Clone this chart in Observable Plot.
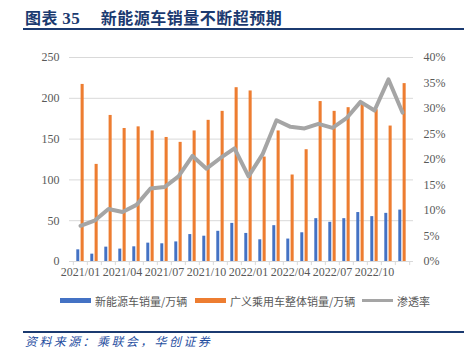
<!DOCTYPE html>
<html>
<head>
<meta charset="utf-8">
<script src="https://cdn.jsdelivr.net/npm/d3@7"></script>
<script src="https://cdn.jsdelivr.net/npm/@observablehq/plot@0.6"></script>
<style>
body{margin:0;background:#fff;}
#wrap{position:relative;width:471px;height:352px;overflow:hidden;background:#fff;}
#title{position:absolute;left:25px;top:5px;font:bold 16px "Noto Sans CJK SC";color:#1b3a70;white-space:nowrap;letter-spacing:0.5px;}
#title .num{font-family:"Liberation Serif";font-size:17px;}
.rule{position:absolute;left:23px;width:441px;height:2px;background:#1b3a70;}
#chart{position:absolute;left:0;top:40px;}
#legend{position:absolute;left:0;top:293px;width:471px;font:11px "Noto Sans CJK SC";color:#595959;white-space:nowrap;}
#legend span.it{position:absolute;top:0;}
#legend i{position:absolute;display:block;}
#source{position:absolute;left:25px;top:333px;font:italic 12px/16px "Noto Sans CJK SC";color:#1f4e9f;white-space:nowrap;letter-spacing:2.4px;}
</style>
</head>
<body>
<div id="wrap">
  <div id="title">图表 <span class="num">35</span>&nbsp;&nbsp;&nbsp;&nbsp;&nbsp;新能源车销量不断超预期</div>
  <div class="rule" style="top:28px"></div>
  <div id="chart"></div>
  <div id="legend">
    <i style="left:60px;top:5px;width:31px;height:5px;background:#4472c4"></i>
    <span class="it" style="left:95px">新能源车销量/万辆</span>
    <i style="left:195px;top:5px;width:31px;height:5px;background:#ed7d31"></i>
    <span class="it" style="left:230px">广义乘用车整体销量/万辆</span>
    <i style="left:362px;top:6px;width:31px;height:3px;background:#a5a5a5"></i>
    <span class="it" style="left:397px">渗透率</span>
  </div>
  <div class="rule" style="top:331px"></div>
  <div id="source">资料来源：乘联会，华创证券</div>
</div>
<script>
const months = ["2021/01","2021/02","2021/03","2021/04","2021/05","2021/06","2021/07","2021/08","2021/09","2021/10","2021/11","2021/12",
                "2022/01","2022/02","2022/03","2022/04","2022/05","2022/06","2022/07","2022/08","2022/09","2022/10","2022/11","2022/12"];
const nevSales = [14.3, 9, 17.6, 15.2, 18, 22.5, 21.7, 24, 33, 31, 37, 46.7,
                  34.4, 26.6, 43.9, 27.5, 35.2, 52.5, 48, 52.5, 60, 55, 59, 63];
const totalSales = [217, 119, 179, 163, 165, 160, 152, 146, 160, 173, 184, 213,
                    209, 128, 160, 106, 137, 196, 184, 188.5, 193, 186, 166, 218];
const penetration = [7.0, 8.0, 10.3, 9.7, 11.1, 14.3, 14.6, 16.7, 20.7, 18.2, 20.3, 22.2,
                     16.7, 21.0, 27.7, 26.4, 26.1, 27.0, 26.2, 28.1, 31.3, 29.6, 35.7, 29.2];
const leftTicks = [0, 50, 100, 150, 200, 250];
const rightTicks = [0, 5, 10, 15, 20, 25, 30, 35, 40];
const xLabels = ["2021/01","2021/04","2021/07","2021/10","2022/01","2022/04","2022/07","2022/10"];

const yMax = 250, pMax = 40, k = yMax / pMax;
const data = months.map((m, i) => ({month: m, nev: nevSales[i], total: totalSales[i], rate: penetration[i]}));

const W = 471, H = 245, mL = 69, mR = 58;
const bw = (W - mL - mR) / months.length;

const chart = Plot.plot({
  width: W, height: H,
  marginLeft: mL, marginRight: mR, marginTop: 17, marginBottom: 24,
  style: {fontFamily: "Liberation Serif", fontSize: "12px", color: "#595959", background: "#fff"},
  x: {type: "band", domain: months, padding: 0},
  y: {domain: [0, yMax]},
  marks: [
    Plot.ruleY(leftTicks.filter(d => d > 0), {stroke: "#d9d9d9", strokeWidth: 1}),
    Plot.ruleY([0], {stroke: "#d9d9d9", strokeWidth: 1}),
    Plot.ruleX(months, {x: d => d, dx: -bw / 2, y1: 0, y2: -5, stroke: "#d9d9d9"}),
    Plot.ruleX([months[months.length - 1]], {x: d => d, dx: bw / 2, y1: 0, y2: -5, stroke: "#d9d9d9"}),
    Plot.barY(data, {x: "month", y: "nev", fill: "#4472c4", insetLeft: 3.3, insetRight: bw - 6.6}),
    Plot.barY(data, {x: "month", y: "total", fill: "#ed7d31", insetLeft: 7.6, insetRight: bw - 11}),
    Plot.lineY(data, {x: "month", y: d => d.rate * k, stroke: "#a5a5a5", strokeWidth: 4, strokeLinejoin: "round", strokeLinecap: "round"}),
    Plot.axisY({ticks: leftTicks, tickSize: 0, tickPadding: 10, anchor: "left", label: null}),
    Plot.axisY({ticks: rightTicks.map(p => p * k), tickFormat: d => Math.round(d / k) + "%", tickSize: 0, tickPadding: 10, anchor: "right", label: null}),
    Plot.axisX({ticks: xLabels, tickSize: 0, tickPadding: 6, label: null})
  ]
});
document.getElementById("chart").appendChild(chart);
</script>
</body>
</html>
